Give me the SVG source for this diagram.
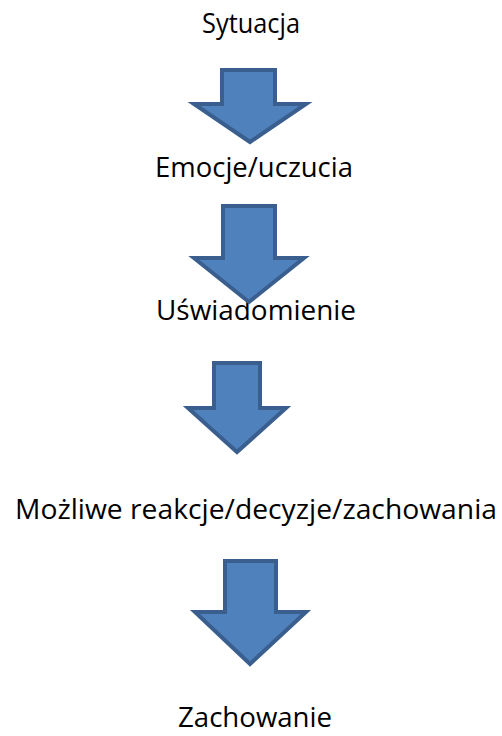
<svg xmlns="http://www.w3.org/2000/svg" width="502" height="736" viewBox="0 0 502 736">
<style>
.lbl{font-family:"Open Sans","Liberation Sans",sans-serif;font-size:27px;fill:#000;text-anchor:middle}
.arr{fill:#4F81BD;stroke:#3A5F8F;stroke-width:4;stroke-linejoin:miter}
</style>
<rect width="502" height="736" fill="#fff"/>
<g id="n1"><text class="lbl" x="251" y="33" textLength="98" lengthAdjust="spacingAndGlyphs">Sytuacja</text></g>
<g id="n2"><text class="lbl" x="254" y="177" textLength="198" lengthAdjust="spacingAndGlyphs">Emocje/uczucia</text></g>
<g id="n3"><text class="lbl" x="256" y="320" textLength="200" lengthAdjust="spacingAndGlyphs">Uświadomienie</text></g>
<g id="n4"><text class="lbl" x="256" y="519" textLength="482" lengthAdjust="spacingAndGlyphs">Możliwe reakcje/decyzje/zachowania</text></g>
<g id="n5"><text class="lbl" x="255" y="727" textLength="154" lengthAdjust="spacingAndGlyphs">Zachowanie</text></g>
<g id="connectors">
<path class="arr" d="M222,70 H275 V104 H306 L250,142 L194,104 H222 Z"/>
<path class="arr" d="M223,206 H275 V258 H304 L249,302 L194,258 H223 Z"/>
<path class="arr" d="M214,363 H260 V408 H286 L237,452 L188,408 H214 Z"/>
<path class="arr" d="M225,561 H276 V612 H306 L250,664 L195,612 H225 Z"/>
</g>
</svg>
